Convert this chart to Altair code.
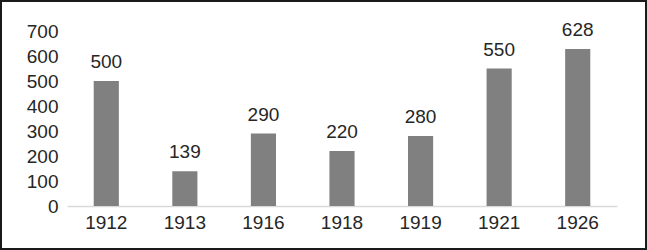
import altair as alt
import pandas as pd

years = ["1912", "1913", "1916", "1918", "1919", "1921", "1926"]
values = [500, 139, 290, 220, 280, 550, 628]

df = pd.DataFrame({"year": years, "value": values})

FONT = "Liberation Sans"
TXT = "#262626"
FS = 19

base = alt.Chart(df).encode(
    x=alt.X("year:N", sort=years, title=None,
            scale=alt.Scale(paddingInner=0.68, paddingOuter=0.34),
            axis=alt.Axis(labelAngle=0, labelFont=FONT, labelFontSize=FS, labelColor=TXT,
                          ticks=False, domainColor="#d9d9d9", domainWidth=1.5, labelPadding=7)),
    y=alt.Y("value:Q", title=None,
            scale=alt.Scale(domain=[0, 700]),
            axis=alt.Axis(values=[0, 100, 200, 300, 400, 500, 600, 700], grid=False, domain=False,
                          ticks=False, labelFont=FONT, labelFontSize=FS, labelColor=TXT,
                          labelPadding=9)),
)

bars = base.mark_bar(color="#808080")
labels = base.mark_text(dy=-19, font=FONT, fontSize=FS, color=TXT).encode(text="value:Q")

frame = alt.Chart(df).mark_rect(fill=None, stroke="#1a1a1a", strokeWidth=2).encode(
    x=alt.value(-66), x2=alt.value(579), y=alt.value(-30), y2=alt.value(218)
)

chart = alt.layer(bars, labels, frame).properties(
    width=550, height=175,
    autosize=alt.AutoSizeParams(type="none"),
    padding={"left": 67, "top": 31, "right": 30, "bottom": 44},
    background="white",
).configure_view(stroke=None)

chart.save("out.html", embed_options={"renderer": "svg", "actions": False})
